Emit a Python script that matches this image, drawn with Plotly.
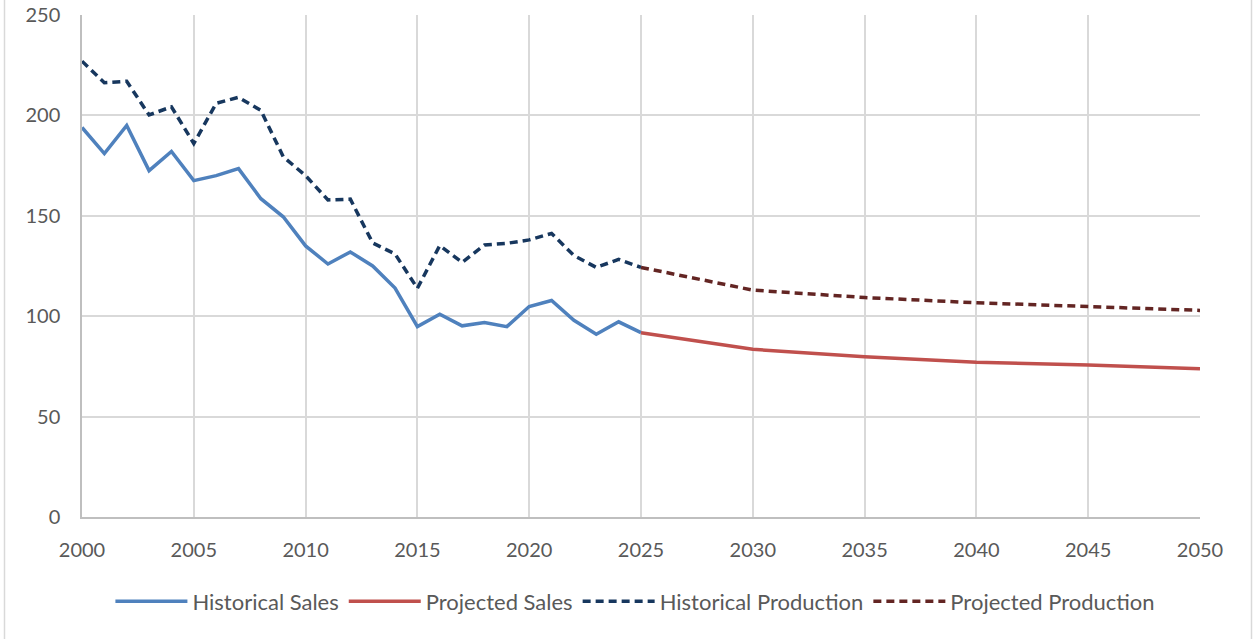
import plotly.graph_objects as go

hist_years = list(range(2000, 2026))
hist_sales = [194, 181, 195, 172.5, 182, 167.5, 170, 173.5, 158.5, 149.5,
              135, 126, 132, 125, 114, 94.8, 101, 95.2, 96.8, 94.8,
              104.8, 107.8, 98, 91, 97.2, 91.8]
hist_prod = [227, 216.3, 217, 200.2, 204.3, 186, 206, 209, 202.5, 179.4,
             170, 157.9, 158.3, 136.5, 131, 113.9, 135.2, 126.8, 135.5, 136.3,
             138, 141.2, 130.2, 124.3, 128.3, 124.3]
proj_years = [2025, 2030, 2035, 2040, 2045, 2050]
proj_sales = [91.8, 83.5, 79.8, 77.1, 75.7, 73.8]
proj_prod = [124.3, 113, 109.3, 106.7, 104.8, 102.9]

x_ticks = list(range(2000, 2051, 5))
y_ticks = [0, 50, 100, 150, 200, 250]

FONT = "Lato"
TXT = "#595959"

fig = go.Figure()
fig.add_trace(go.Scatter(x=hist_years, y=hist_sales, mode="lines", name="Historical Sales",
                         line=dict(color="#4F81BD", width=3.5)))
fig.add_trace(go.Scatter(x=proj_years, y=proj_sales, mode="lines", name="Projected Sales",
                         line=dict(color="#C0504D", width=3.5)))
fig.add_trace(go.Scatter(x=hist_years, y=hist_prod, mode="lines", name="Historical Production",
                         line=dict(color="#17375E", width=3.5, dash="8px,5px")))
fig.add_trace(go.Scatter(x=proj_years, y=proj_prod, mode="lines", name="Projected Production",
                         line=dict(color="#632523", width=3.5, dash="8px,5px")))

fig.update_layout(
    width=1254, height=639,
    margin=dict(l=82, r=54, t=15, b=122, autoexpand=False),
    paper_bgcolor="white", plot_bgcolor="white",
    font=dict(family=FONT, size=20, color=TXT),
    showlegend=True,
    legend=dict(orientation="h", x=0.495, xanchor="center", y=-0.168, yanchor="middle",
                font=dict(family=FONT, size=22, color=TXT), itemwidth=72,
                traceorder="normal"),
    shapes=[dict(type="rect", xref="paper", yref="paper",
                 x0=(4.5 - 82) / 1118, x1=(1251.5 - 82) / 1118,
                 y0=(517 - 660) / 502, y1=(517 + 20) / 502,
                 line=dict(color="#D9D9D9", width=1.5), layer="below")],
)
fig.update_xaxes(range=[2000, 2050], tickvals=x_ticks, ticktext=[str(v) for v in x_ticks],
                 showgrid=True, gridcolor="#D9D9D9", gridwidth=1.5,
                 showline=True, linecolor="#BFBFBF", linewidth=1.5,
                 zeroline=False, ticks="", ticklabelstandoff=14, automargin=False,
                 tickfont=dict(family=FONT, size=20, color=TXT))
fig.update_yaxes(range=[0, 250], tickvals=y_ticks,
                 showgrid=True, gridcolor="#D9D9D9", gridwidth=1.5,
                 showline=True, linecolor="#BFBFBF", linewidth=1.5,
                 zeroline=False, ticks="", ticklabelstandoff=16, automargin=False,
                 tickfont=dict(family=FONT, size=20, color=TXT))

fig.write_html("out.html", config={"displayModeBar": False},
               post_script="document.body.style.margin='0';")
